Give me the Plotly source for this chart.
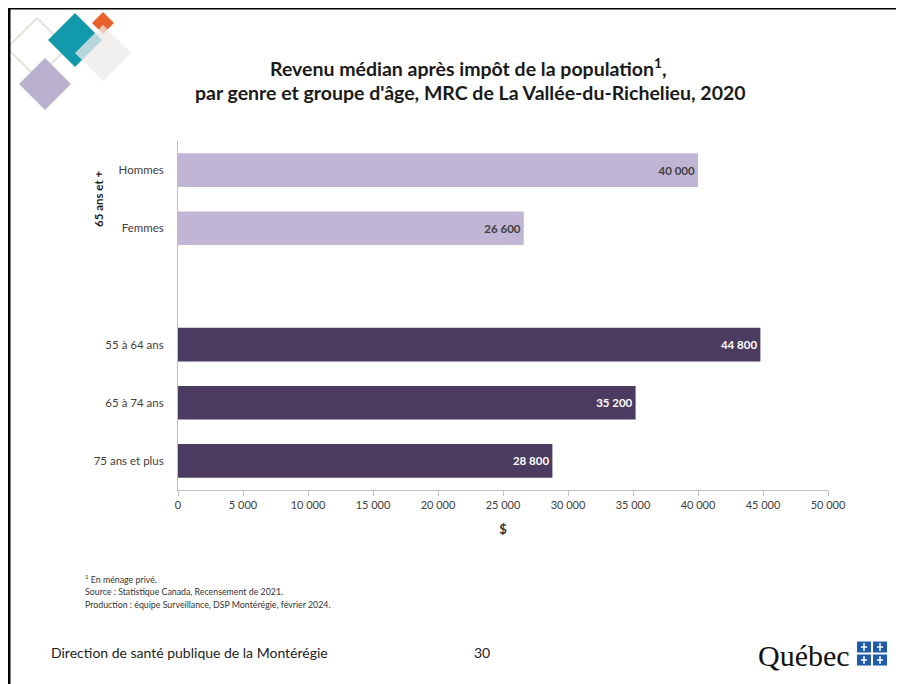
import plotly.graph_objects as go

categories = ["Hommes", "Femmes", "", "55 à 64 ans", "65 à 74 ans", "75 ans et plus"]
values = [40000, 26600, None, 44800, 35200, 28800]
bar_colors = ["#C1B5D5", "#C1B5D5", "#FFFFFF", "#4C3B60", "#4C3B60", "#4C3B60"]
text_colors = ["#404040", "#404040", "#FFFFFF", "#FFFFFF", "#FFFFFF", "#FFFFFF"]
x_ticks = [0, 5000, 10000, 15000, 20000, 25000, 30000, 35000, 40000, 45000, 50000]

OFF = 8  # page body margin
W, H = 904 - OFF, 684 - OFF
L, R, T, B = 178 - OFF, 828 - OFF, 141 - OFF, 490 - OFF

def px(x):
    return (x - OFF - L) / (R - L)

def py(y):
    return (B - (y - OFF)) / (B - T)

ypos = list(range(len(categories)))

fig = go.Figure()
fig.add_trace(go.Bar(
    y=ypos, x=values, orientation="h",
    marker=dict(color=bar_colors, line=dict(width=0)),
    width=0.58,
    texttemplate="<b>%{x:,d}</b>",
    textposition="inside", insidetextanchor="end",
    textfont=dict(family="Lato", size=11.5, color=text_colors),
    hoverinfo="skip",
))

fig.update_layout(
    width=W, height=H,
    margin=dict(l=L, r=W - R, t=T, b=H - B, pad=0),
    paper_bgcolor="white", plot_bgcolor="white",
    separators=", ",
    showlegend=False,
    font=dict(family="Lato", color="#404040"),
    xaxis=dict(range=[0, 50000], tickvals=x_ticks, tickformat=",d",
               showgrid=False, zeroline=False,
               showline=True, linecolor="#BFBFBF", linewidth=1,
               ticks="outside", ticklen=5, tickcolor="#BFBFBF",
               tickfont=dict(size=11, color="#404040", family="Lato"),
               title=dict(text="<b>$</b>", font=dict(size=13, color="#333333"), standoff=14)),
    yaxis=dict(range=[len(categories) - 0.5, -0.5], tickvals=ypos, ticktext=categories,
               showgrid=False, zeroline=False,
               showline=True, linecolor="#BFBFBF", linewidth=1,
               ticks="outside", ticklen=11, tickcolor="rgba(0,0,0,0)",
               tickfont=dict(size=11.5, color="#404040", family="Lato")),
)

ann = []
def add_text(text, x, y, size, color="#1a1a1a", family="Lato", xanchor="center", **kw):
    ann.append(dict(text=text, x=px(x), y=py(y), xref="paper", yref="paper",
                    xanchor=xanchor, yanchor="middle", showarrow=False,
                    font=dict(size=size, color=color, family=family), **kw))

add_text("<b>Revenu médian après impôt de la population<sup>1</sup>,</b>", 468, 67, 19.5)
add_text("<b>par genre et groupe d'âge, MRC de La Vallée-du-Richelieu, 2020</b>", 470, 92, 19.5)
add_text("<b>65 ans et +</b>", 98, 199, 11.5, textangle=-90)
foot = ["<sup>1</sup> En ménage privé.",
        "Source : Statistique Canada, Recensement de 2021.",
        "Production : équipe Surveillance, DSP Montérégie, février 2024."]
for i, t in enumerate(foot):
    add_text(t, 83, 579 + i * 12.5, 8.8, color="#333333", xanchor="left")
add_text("Direction de santé publique de la Montérégie", 49, 652, 14, color="#222222", xanchor="left")
add_text("30", 482, 652, 14, color="#222222")
add_text("Québec", 852, 655, 30, color="#111111", family="Liberation Serif", xanchor="right")
fig.update_layout(annotations=ann)

shapes = []

def diamond(cx, cy, r, **kw):
    path = (f"M {px(cx - r)} {py(cy)} L {px(cx)} {py(cy - r)} "
            f"L {px(cx + r)} {py(cy)} L {px(cx)} {py(cy + r)} Z")
    d = dict(type="path", path=path, xref="paper", yref="paper", layer="above")
    d.update(kw)
    return d

shapes.append(diamond(37, 48, 30, line=dict(color="#D6DED2", width=1.5), fillcolor="rgba(0,0,0,0)"))
shapes.append(diamond(45, 84, 26, line=dict(width=0), fillcolor="#B9B1CD"))
shapes.append(diamond(75, 40, 27, line=dict(width=0), fillcolor="#1399AC"))
shapes.append(diamond(103, 23, 11, line=dict(width=0), fillcolor="#E8622A"))
shapes.append(diamond(103, 53, 28, line=dict(width=0), fillcolor="rgba(238,235,232,0.75)"))

# slide border (top and left)
shapes.append(dict(type="line", xref="paper", yref="paper", x0=px(9), x1=px(904),
                   y0=py(8), y1=py(8), line=dict(color="#000000", width=3)))
shapes.append(dict(type="line", xref="paper", yref="paper", x0=px(9), x1=px(9),
                   y0=py(8), y1=py(684), line=dict(color="#000000", width=3)))

# Québec flag
for (cx, cy) in [(864, 647), (880, 647), (864, 660), (880, 660)]:
    shapes.append(dict(type="rect", xref="paper", yref="paper",
                       x0=px(cx - 7), x1=px(cx + 7), y0=py(cy - 5.5), y1=py(cy + 5.5),
                       fillcolor="#1F5BA8", line=dict(width=0)))
    shapes.append(dict(type="line", xref="paper", yref="paper",
                       x0=px(cx), x1=px(cx), y0=py(cy - 4), y1=py(cy + 4),
                       line=dict(color="white", width=1.5)))
    shapes.append(dict(type="line", xref="paper", yref="paper",
                       x0=px(cx - 3), x1=px(cx + 3), y0=py(cy), y1=py(cy),
                       line=dict(color="white", width=1.5)))
fig.update_layout(shapes=shapes)

fig.write_html("out.html")
